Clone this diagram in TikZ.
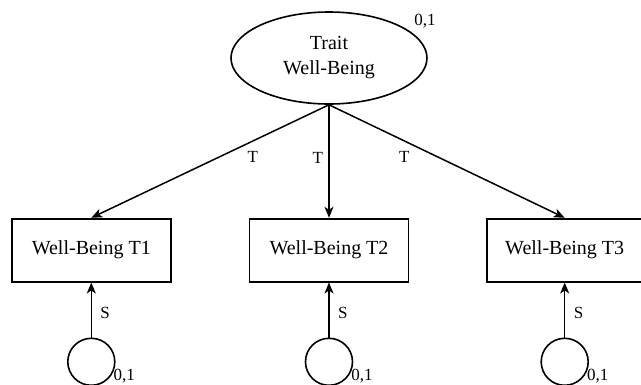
\documentclass[tikz,border=0pt]{standalone}
\usepackage{fontspec}
\setmainfont{Liberation Serif}
\usepackage{tikz}
\usetikzlibrary{shapes.geometric,arrows.meta,positioning}

\begin{document}
\begin{tikzpicture}[
  latent/.style={draw,ellipse,line width=1.6pt,minimum width=196pt,minimum height=92pt,inner sep=0pt,align=center,font=\fontsize{20}{25}\selectfont},
  obs/.style={draw,rectangle,line width=1.7pt,minimum width=159pt,minimum height=63pt,inner sep=0pt,font=\fontsize{20}{25}\selectfont},
  resid/.style={draw,circle,line width=1.6pt,minimum size=47pt,inner sep=0pt},
  lbl/.style={font=\fontsize{17}{19}\selectfont},
  path/.style={-{Stealth[length=11pt,width=9pt,inset=3pt]},line width=1.5pt}
]
  \useasboundingbox (-329pt,-326pt) rectangle (312pt,58pt);
  \node[latent] (trait) at (0,0) {Trait\\Well-Being};
  \node[obs,below=113pt of trait] (wb2) {Well-Being T2};
  \node[obs,left=77pt of wb2] (wb1) {Well-Being T1};
  \node[obs,right=77pt of wb2,minimum width=155pt] (wb3) {Well-Being T3};
  \node[resid,below=55pt of wb1] (e1) {};
  \node[resid,below=55pt of wb2] (e2) {};
  \node[resid,below=55pt of wb3] (e3) {};
  \node[lbl] (vtrait) at ([xshift=96pt,yshift=37pt]trait.center) {0,1};
  \node[lbl] (v1) at ([xshift=33pt,yshift=-14pt]e1.center) {0,1};
  \node[lbl] (v2) at ([xshift=33pt,yshift=-14pt]e2.center) {0,1};
  \node[lbl] (v3) at ([xshift=33pt,yshift=-14pt]e3.center) {0,1};
  \draw[path] (trait.south) -- (wb1.north) node[lbl,pos=0.32,below=6pt] {T};
  \draw[path] (trait.south) -- (wb2.north) node[lbl,pos=0.47,left=2pt] {T};
  \draw[path] (trait.south) -- (wb3.north) node[lbl,pos=0.32,below=6pt] {T};
  \draw[path] (e1.north) -- (wb1.south) node[lbl,pos=0.45,right=5pt] {S};
  \draw[path] (e2.north) -- (wb2.south) node[lbl,pos=0.45,right=5pt] {S};
  \draw[path] (e3.north) -- (wb3.south) node[lbl,pos=0.45,right=5pt] {S};
\end{tikzpicture}
\end{document}
